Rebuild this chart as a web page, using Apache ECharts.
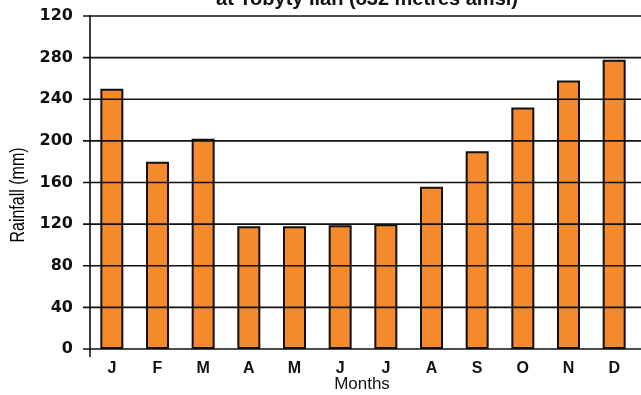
<!DOCTYPE html>
<html>
<head>
<meta charset="utf-8">
<style>
  html, body { margin: 0; padding: 0; background: #fff; }
  #chart { width: 641px; height: 395px; }
</style>
<script src="https://cdn.jsdelivr.net/npm/echarts@6/dist/echarts.min.js"></script>
</head>
<body>
<div id="chart"></div>
<script>
// Monthly rainfall (mm)
const months = ['J', 'F', 'M', 'A', 'M', 'J', 'J', 'A', 'S', 'O', 'N', 'D'];
const rainfall = [250, 180, 202, 118, 118, 119, 120, 156, 190, 232, 258, 278];
// Tick values and the text printed beside each
const tickValues = [0, 40, 80, 120, 160, 200, 240, 280, 320];
const tickLabels = ['0', '40', '80', '120', '160', '200', '240', '280', '120'];

const titleText = 'at Tobyty Ilan (832 metres amsl)';
const xName = 'Months';
const yName = 'Rainfall (mm)';

const chart = echarts.init(document.getElementById('chart'));
const labelFont = '"Liberation Sans", Arial, sans-serif';
const tickFont = '"DejaVu Sans", sans-serif';

chart.setOption({
  animation: false,
  title: {
    text: titleText,
    left: 362,
    textAlign: 'center',
    top: -16,
    textStyle: { fontFamily: labelFont, fontSize: 20, fontWeight: 'bold', color: '#111' }
  },
  grid: { left: 89, right: 4, top: 16, bottom: 46, containLabel: false, outerBoundsMode: 'none' },
  xAxis: {
    type: 'category',
    data: months,
    axisLine: { show: false },
    axisTick: { show: false },
    axisLabel: { fontFamily: labelFont, fontSize: 16, fontWeight: 'bold', color: '#111', margin: 12 }
  },
  yAxis: {
    type: 'value',
    min: 0,
    max: 320,
    interval: 40,
    axisLine: { show: false },
    axisTick: { show: false },
    axisLabel: {
      fontFamily: tickFont, fontSize: 16, fontWeight: 'bold', color: '#111', margin: 16,
      formatter: v => tickLabels[tickValues.indexOf(v)] ?? String(v)
    },
    splitLine: { show: false }
  },
  series: [{
    type: 'bar',
    data: rainfall,
    barWidth: 23,
    z: 2,
    itemStyle: { color: '#F58A2C', borderColor: '#111', borderWidth: 2 }
  }]
});

// Gridlines with their outward ticks, the vertical axis and the axis titles,
// placed through the axis scale.
const lines = tickValues.map(v => {
  const y = chart.convertToPixel({ yAxisIndex: 0 }, v);
  return { type: 'line', z: 10, shape: { x1: 83, y1: y, x2: 641, y2: y },
           style: { stroke: '#111', lineWidth: 1.6 } };
});
const yTop = chart.convertToPixel({ yAxisIndex: 0 }, 320);
const yZero = chart.convertToPixel({ yAxisIndex: 0 }, 0);
chart.setOption({
  graphic: [
    ...lines,
    { type: 'line', z: 10, shape: { x1: 90, y1: yTop - 1, x2: 90, y2: yZero + 8 },
      style: { stroke: '#111', lineWidth: 1.6 } },
    // horizontal axis title
    { type: 'text', x: 362, y: yZero + 35,
      style: { text: xName, fill: '#111', align: 'center', verticalAlign: 'middle',
               font: '17px "Liberation Sans", Arial, sans-serif' } },
    // condensed, rotated axis title
    { type: 'text', x: 18, y: 195, rotation: Math.PI / 2, scaleX: 0.8,
      style: { text: yName, fill: '#000', align: 'center', verticalAlign: 'middle',
               font: '20px "Liberation Sans", Arial, sans-serif' } }
  ]
});
</script>
</body>
</html>
